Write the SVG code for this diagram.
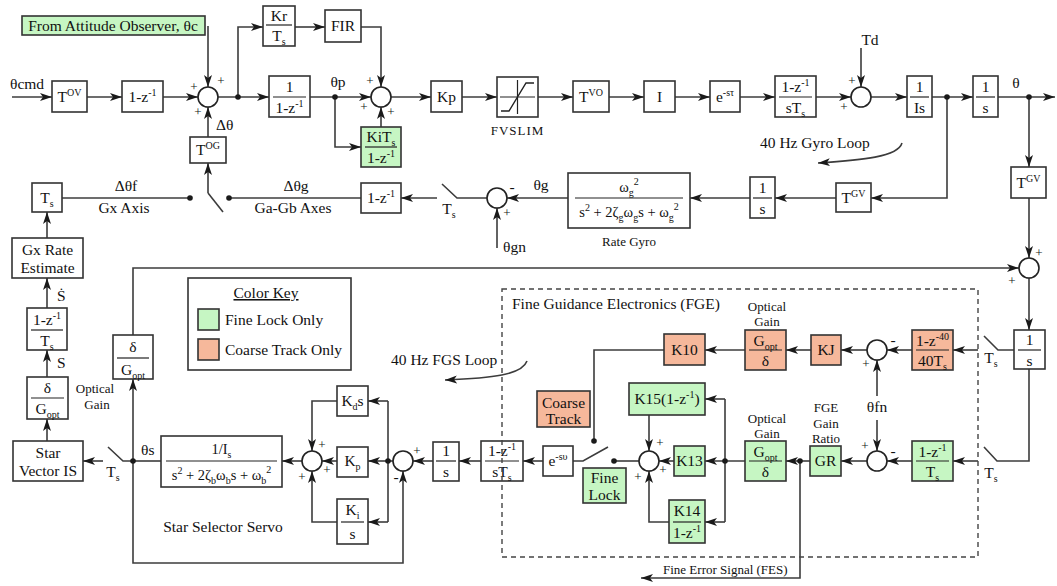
<svg xmlns="http://www.w3.org/2000/svg" width="1057" height="586" viewBox="0 0 1057 586">
<defs>
<marker id="ah" viewBox="0 0 12 8" refX="12" refY="4" markerWidth="12" markerHeight="8" markerUnits="userSpaceOnUse" orient="auto"><path d="M0,0 L12,4 L0,8 L3,4 Z" fill="#1a1a1a"/></marker>
</defs>
<style>
text{font-family:"Liberation Serif","Times New Roman",serif;font-size:15.5px;fill:#111}
.c{text-anchor:middle}
.sm{font-size:13px}
.pm{font-size:14.5px}
.bx{fill:#fff;stroke:#333;stroke-width:1.6}
.g{fill:#c6f6c3}
.o{fill:#f6b89b}
.ln{fill:none;stroke:#3c3c3c;stroke-width:1.6}
.ar{marker-end:url(#ah)}
.fl{stroke:#222;stroke-width:1.2}
.dot{fill:#1a1a1a}
.sum{fill:#fff;stroke:#222;stroke-width:1.6}
</style>
<rect width="1057" height="586" fill="#fff"/>

<g id="connectors">
<path class="ln ar" d="M12,97 H52"/>
<path class="ln ar" d="M87,97 H122"/>
<path class="ln ar" d="M163,97 H198"/>
<path class="ln ar" d="M208,26 V87"/>
<path class="ln ar" d="M218,97 H269"/>
<path class="ln ar" d="M238,97 V27 H263"/>
<path class="ln ar" d="M295,27 H325"/>
<path class="ln ar" d="M361,27 H381 V87"/>
<path class="ln ar" d="M310,97 H371"/>
<path class="ln ar" d="M335,97 V147 H361"/>
<path class="ln ar" d="M381,127 V107"/>
<path class="ln ar" d="M391,97 H431"/>
<path class="ln ar" d="M462,97 H497"/>
<path class="ln ar" d="M538,97 H573"/>
<path class="ln ar" d="M609,97 H644"/>
<path class="ln ar" d="M675,97 H710"/>
<path class="ln ar" d="M740,97 H775"/>
<path class="ln ar" d="M816,97 H851"/>
<path class="ln ar" d="M861,48 V87"/>
<path class="ln ar" d="M871,97 H907"/>
<path class="ln ar" d="M932,97 H973"/>
<path class="ln ar" d="M998,97 H1055"/>
<path class="ln ar" d="M1029,97 V167"/>
<path class="ln ar" d="M1029,198 V258"/>
<path class="ln ar" d="M947,97 V198 H871"/>
<path class="ln ar" d="M836,198 H775"/>
<path class="ln ar" d="M750,198 H690"/>
<path class="ln ar" d="M568,198 H507"/>
<path class="ln ar" d="M497,248 V208"/>
<path class="ln" d="M487,198 H457 L442,184"/>
<path class="ln ar" d="M437,198 H401"/>
<path class="ln" d="M361,198 H229"/>
<path class="ln" d="M190,198 H62"/>
<path class="ln ar" d="M208,193 V163"/>
<path class="ln" d="M208,193 L223,212"/>
<path class="ln ar" d="M208,137 V107"/>
<path class="ln ar" d="M47,238 V212"/>
<path class="ln ar" d="M47,308 V278"/>
<path class="ln ar" d="M47,377 V350"/>
<path class="ln ar" d="M47,441 V419"/>
<path class="ln ar" d="M103,461 H83"/>
<path class="ln" d="M133,461 H123 L108,447"/>
<path class="ln" d="M161,461 H133"/>
<path class="ln ar" d="M133,461 V379"/>
<path class="ln ar" d="M133,335 V268 H1019"/>
<path class="ln ar" d="M133,461 V563 H403 V471"/>
<path class="ln ar" d="M302,461 H282"/>
<path class="ln ar" d="M337,401 H312 V451"/>
<path class="ln ar" d="M337,461 H322"/>
<path class="ln ar" d="M337,522 H312 V471"/>
<path class="ln ar" d="M393,461 H368"/>
<path class="ln" d="M388,401 V522"/>
<path class="ln ar" d="M388,401 H368"/>
<path class="ln ar" d="M388,522 H368"/>
<path class="ln ar" d="M433,461 H413"/>
<path class="ln ar" d="M481,461 H459"/>
<path class="ln ar" d="M543,461 H523"/>
<path class="ln" d="M573,461 H583 L608,447"/>
<path class="ln" d="M664,350 H594 V441"/>
<path class="ln" d="M614,461 H639"/>
<path class="ln ar" d="M649,415 V451"/>
<path class="ln ar" d="M674,461 H659"/>
<path class="ln ar" d="M669,522 H649 V471"/>
<path class="ln ar" d="M745,461 H705"/>
<path class="ln" d="M725,399 V522"/>
<path class="ln ar" d="M725,399 H705"/>
<path class="ln ar" d="M725,522 H705"/>
<path class="ln ar" d="M810,461 H786"/>
<path class="ln ar" d="M800,461 V578 H641"/>
<path class="ln ar" d="M867,461 H841"/>
<path class="ln ar" d="M877,420 V451"/>
<path class="ln ar" d="M877,396 V360"/>
<path class="ln ar" d="M912,461 H887"/>
<path class="ln ar" d="M978,461 H953"/>
<path class="ln" d="M984,447 L997,461 H1029 V369"/>
<path class="ln ar" d="M1029,278 V330"/>
<path class="ln" d="M1014,350 H998 L984,336"/>
<path class="ln ar" d="M978,350 H953"/>
<path class="ln ar" d="M912,350 H887"/>
<path class="ln ar" d="M867,350 H841"/>
<path class="ln ar" d="M811,350 H786"/>
<path class="ln ar" d="M745,350 H705"/>
<path class="ln ar" d="M902,143 C898,157 862,160 818,163"/>
<path class="ln ar" d="M527,361 C522,375 492,378 445,380"/>
<circle class="dot" cx="238" cy="97" r="2.8"/>
<circle class="dot" cx="335" cy="97" r="2.8"/>
<circle class="dot" cx="947" cy="97" r="2.8"/>
<circle class="dot" cx="1029" cy="97" r="2.8"/>
<circle class="dot" cx="229" cy="198" r="2.8"/>
<circle class="dot" cx="190" cy="198" r="2.8"/>
<circle class="dot" cx="133" cy="461" r="2.8"/>
<circle class="dot" cx="388" cy="461" r="2.8"/>
<circle class="dot" cx="594" cy="441" r="2.8"/>
<circle class="dot" cx="614" cy="461" r="2.8"/>
<circle class="dot" cx="725" cy="461" r="2.8"/>
<circle class="dot" cx="800" cy="461" r="2.8"/>
</g>

<g id="labels">
<text x="10" y="89">θcmd</text>
<text x="216" y="130">Δθ</text>
<text x="338" y="87" class="c">θp</text>
<text x="870" y="45" class="c">Td</text>
<text x="1016" y="88" class="c">θ</text>
<text x="760" y="148">40 Hz Gyro Loop</text>
<text x="541" y="190" class="c">θg</text>
<text x="503" y="252">θgn</text>
<text x="449" y="214" class="c">T<tspan dy="4" font-size="10">s</tspan></text>
<text x="296" y="191" class="c">Δθg</text>
<text x="293" y="213" class="c">Ga-Gb Axes</text>
<text x="126" y="191" class="c">Δθf</text>
<text x="124" y="213" class="c">Gx Axis</text>
<text x="57" y="301">Ṡ</text>
<text x="57" y="368">S</text>
<text x="95" y="393" class="c sm">Optical</text>
<text x="97" y="409" class="c sm">Gain</text>
<text x="113" y="477" class="c">T<tspan dy="4" font-size="10">s</tspan></text>
<text x="141" y="455">θs</text>
<text x="223" y="532" class="c">Star Selector Servo</text>
<text x="391" y="365">40 Hz FGS Loop</text>
<text x="767" y="311" class="c sm">Optical</text>
<text x="767" y="326" class="c sm">Gain</text>
<text x="767" y="423" class="c sm">Optical</text>
<text x="767" y="438" class="c sm">Gain</text>
<text x="826" y="412" class="c sm">FGE</text>
<text x="826" y="428" class="c sm">Gain</text>
<text x="826" y="443" class="c sm">Ratio</text>
<text x="877" y="412" class="c">θfn</text>
<text x="991" y="363" class="c">T<tspan dy="4" font-size="10">s</tspan></text>
<text x="991" y="478" class="c">T<tspan dy="4" font-size="10">s</tspan></text>
<text x="663" y="574" class="sm">Fine Error Signal (FES)</text>
</g>

<g id="from-observer"><rect class="bx g" x="22" y="16" width="183" height="19"/><text x="113" y="31" class="c">From Attitude Observer, θc</text></g>
<g id="tov"><rect class="bx" x="52" y="81" width="35" height="31"/><text x="69.5" y="102" class="c">T<tspan dy="-6" font-size="10">OV</tspan></text></g>
<g id="diff1"><rect class="bx" x="122" y="81" width="41" height="31"/><text x="142.5" y="102" class="c">1-z<tspan dy="-6" font-size="10">-1</tspan></text></g>
<g id="sum1"><circle class="sum" cx="208" cy="97" r="10"/><text x="194" y="91" class="c sm">+</text><text x="221" y="85" class="c sm">+</text><text x="198" y="116" class="c sm">+</text></g>
<g id="tog"><rect class="bx" x="190" y="137" width="36" height="26"/><text x="208" y="155" class="c">T<tspan dy="-6" font-size="10">OG</tspan></text></g>
<g id="kr-ts"><rect class="bx" x="263" y="6" width="32" height="40"/><text x="279" y="21" class="c">Kr</text><line class="fl" x1="266" y1="25" x2="292" y2="25"/><text x="279" y="41" class="c">T<tspan dy="4" font-size="10">s</tspan></text></g>
<g id="fir"><rect class="bx" x="325" y="10" width="36" height="32"/><text x="343" y="31" class="c">FIR</text></g>
<g id="accum"><rect class="bx" x="269" y="76" width="41" height="41"/><text x="289.5" y="92" class="c">1</text><line class="fl" x1="273" y1="97" x2="306" y2="97"/><text x="289.5" y="113" class="c">1-z<tspan dy="-6" font-size="10">-1</tspan></text></g>
<g id="sum2"><circle class="sum" cx="381" cy="97" r="10"/><text x="370" y="85" class="c sm">+</text><text x="364" y="111" class="c sm">+</text><text x="391" y="116" class="c sm">+</text></g>
<g id="ki"><rect class="bx g" x="361" y="127" width="40" height="40"/><text x="381" y="142" class="c">KiT<tspan dy="4" font-size="10">s</tspan></text><line class="fl" x1="365" y1="147" x2="397" y2="147"/><text x="381" y="163" class="c">1-z<tspan dy="-6" font-size="10">-1</tspan></text></g>
<g id="kp"><rect class="bx" x="431" y="81" width="31" height="31"/><text x="446.5" y="102" class="c">Kp</text></g>
<g id="fvslim"><rect class="bx" x="497" y="77" width="41" height="40"/><line class="fl" x1="517.5" y1="80" x2="517.5" y2="114"/><line class="fl" x1="500" y1="97" x2="535" y2="97"/><path d="M501,111 H509 L526,83 H534" fill="none" stroke="#222" stroke-width="1.4"/><text x="517.5" y="135" class="c sm" letter-spacing="1">FVSLIM</text></g>
<g id="tvo"><rect class="bx" x="573" y="81" width="36" height="31"/><text x="591" y="102" class="c">T<tspan dy="-6" font-size="10">VO</tspan></text></g>
<g id="inertia"><rect class="bx" x="644" y="81" width="31" height="31"/><text x="659.5" y="102" class="c">I</text></g>
<g id="delay1"><rect class="bx" x="710" y="81" width="30" height="31"/><text x="725" y="102" class="c">e<tspan dy="-6" font-size="10">-sτ</tspan></text></g>
<g id="zoh1"><rect class="bx" x="775" y="76" width="41" height="41"/><text x="795.5" y="92" class="c">1-z<tspan dy="-6" font-size="10">-1</tspan></text><line class="fl" x1="779" y1="97" x2="812" y2="97"/><text x="795.5" y="113" class="c">sT<tspan dy="4" font-size="10">s</tspan></text></g>
<g id="sum3"><circle class="sum" cx="861" cy="97" r="10"/><text x="852" y="85" class="c sm">+</text><text x="844" y="111" class="c sm">+</text></g>
<g id="plant1"><rect class="bx" x="907" y="76" width="25" height="41"/><text x="919.5" y="92" class="c">1</text><line class="fl" x1="910" y1="97" x2="929" y2="97"/><text x="919.5" y="113" class="c">Is</text></g>
<g id="plant2"><rect class="bx" x="973" y="76" width="25" height="41"/><text x="985.5" y="92" class="c">1</text><line class="fl" x1="976" y1="97" x2="995" y2="97"/><text x="985.5" y="113" class="c">s</text></g>
<g id="tgv1"><rect class="bx" x="1011" y="167" width="35" height="31"/><text x="1028.5" y="188" class="c">T<tspan dy="-6" font-size="10">GV</tspan></text></g>
<g id="tgv2"><rect class="bx" x="836" y="183" width="35" height="29"/><text x="853.5" y="203" class="c">T<tspan dy="-6" font-size="10">GV</tspan></text></g>
<g id="gyro-int"><rect class="bx" x="750" y="177" width="25" height="41"/><text x="762.5" y="193" class="c">1</text><line class="fl" x1="753" y1="198" x2="772" y2="198"/><text x="762.5" y="214" class="c">s</text></g>
<g id="rate-gyro"><rect class="bx" x="568" y="173" width="122" height="55"/><text x="629" y="192" class="c pm">ω<tspan dy="4" font-size="10">g</tspan><tspan dy="-11" font-size="10">2</tspan></text><line class="fl" x1="575" y1="198" x2="683" y2="198"/><text x="629" y="217" class="c pm">s<tspan dy="-6" font-size="10">2</tspan><tspan dy="6"> + 2ζ</tspan><tspan dy="4" font-size="10">g</tspan><tspan dy="-4">ω</tspan><tspan dy="4" font-size="10">g</tspan><tspan dy="-4">s + ω</tspan><tspan dy="4" font-size="10">g</tspan><tspan dy="-11" font-size="10">2</tspan></text><text x="629" y="246" class="c sm">Rate Gyro</text></g>
<g id="sum4"><circle class="sum" cx="497" cy="198" r="10"/><text x="512" y="192" class="c">-</text><text x="507" y="217" class="c sm">+</text></g>
<g id="diff2"><rect class="bx" x="361" y="183" width="40" height="30"/><text x="381" y="203" class="c">1-z<tspan dy="-6" font-size="10">-1</tspan></text></g>
<g id="ts-box"><rect class="bx" x="32" y="183" width="30" height="29"/><text x="47" y="203" class="c">T<tspan dy="4" font-size="10">s</tspan></text></g>
<g id="gx-rate"><rect class="bx" x="12" y="238" width="71" height="40"/><text x="47.5" y="255" class="c">Gx Rate</text><text x="47.5" y="273" class="c">Estimate</text></g>
<g id="rate-diff"><rect class="bx" x="27" y="308" width="40" height="42"/><text x="47" y="325" class="c">1-z<tspan dy="-6" font-size="10">-1</tspan></text><line class="fl" x1="31" y1="330" x2="63" y2="330"/><text x="47" y="346" class="c">T<tspan dy="4" font-size="10">s</tspan></text></g>
<g id="opt-inv1"><rect class="bx" x="27" y="377" width="41" height="42"/><text x="47.5" y="393" class="c">δ</text><line class="fl" x1="31" y1="398" x2="64" y2="398"/><text x="47.5" y="414" class="c">G<tspan dy="4" font-size="10">opt</tspan></text></g>
<g id="star-vector"><rect class="bx" x="13" y="441" width="70" height="40"/><text x="48" y="458" class="c">Star</text><text x="48" y="476" class="c">Vector IS</text></g>
<g id="opt-inv2"><rect class="bx" x="113" y="335" width="40" height="44"/><text x="133" y="352" class="c">δ</text><line class="fl" x1="117" y1="358" x2="149" y2="358"/><text x="133" y="375" class="c">G<tspan dy="4" font-size="10">opt</tspan></text></g>
<g id="servo"><rect class="bx" x="161" y="436" width="121" height="51"/><text x="221.5" y="454" class="c pm">1/I<tspan dy="4" font-size="10">s</tspan></text><line class="fl" x1="166" y1="461" x2="277" y2="461"/><text x="221.5" y="480" class="c pm">s<tspan dy="-6" font-size="10">2</tspan><tspan dy="6"> + 2ζ</tspan><tspan dy="4" font-size="10">b</tspan><tspan dy="-4">ω</tspan><tspan dy="4" font-size="10">b</tspan><tspan dy="-4">s + ω</tspan><tspan dy="4" font-size="10">b</tspan><tspan dy="-11" font-size="10">2</tspan></text></g>
<g id="sum5"><circle class="sum" cx="312" cy="461" r="10"/><text x="322" y="449" class="c sm">+</text><text x="327" y="474" class="c sm">+</text><text x="302" y="481" class="c sm">+</text></g>
<g id="kds"><rect class="bx" x="337" y="386" width="31" height="30"/><text x="352.5" y="406" class="c">K<tspan dy="4" font-size="10">d</tspan><tspan dy="-4">s</tspan></text></g>
<g id="kp2"><rect class="bx" x="337" y="447" width="31" height="30"/><text x="352.5" y="466" class="c">K<tspan dy="4" font-size="10">p</tspan></text></g>
<g id="kis"><rect class="bx" x="337" y="499" width="31" height="45"/><text x="352.5" y="515" class="c">K<tspan dy="4" font-size="10">i</tspan></text><line class="fl" x1="341" y1="522" x2="364" y2="522"/><text x="352.5" y="539" class="c">s</text></g>
<g id="sum6"><circle class="sum" cx="403" cy="461" r="10"/><text x="417" y="455" class="c sm">+</text><text x="396" y="482" class="c">-</text></g>
<g id="int2"><rect class="bx" x="433" y="442" width="26" height="39"/><text x="446" y="456" class="c">1</text><line class="fl" x1="436" y1="461" x2="456" y2="461"/><text x="446" y="477" class="c">s</text></g>
<g id="zoh2"><rect class="bx" x="481" y="441" width="42" height="40"/><text x="502" y="456" class="c">1-z<tspan dy="-6" font-size="10">-1</tspan></text><line class="fl" x1="485" y1="461" x2="519" y2="461"/><text x="502" y="477" class="c">sT<tspan dy="4" font-size="10">s</tspan></text></g>
<g id="delay2"><rect class="bx" x="543" y="446" width="30" height="30"/><text x="558" y="466" class="c">e<tspan dy="-6" font-size="10">-sυ</tspan></text></g>
<g id="coarse-track"><rect class="bx o" x="537" y="391" width="53" height="36"/><text x="563.5" y="408" class="c">Coarse</text><text x="563.5" y="424" class="c">Track</text></g>
<g id="fine-lock"><rect class="bx g" x="583" y="468" width="43" height="35"/><text x="604.5" y="483" class="c">Fine</text><text x="604.5" y="500" class="c">Lock</text></g>
<g id="sum7"><circle class="sum" cx="649" cy="461" r="10"/><text x="660" y="447" class="c sm">+</text><text x="663" y="474" class="c sm">+</text><text x="638" y="481" class="c sm">+</text></g>
<g id="k15"><rect class="bx g" x="629" y="383" width="76" height="32"/><text x="667" y="404" class="c">K15(1-z<tspan dy="-6" font-size="10">-1</tspan><tspan dy="6">)</tspan></text></g>
<g id="k13"><rect class="bx g" x="674" y="446" width="31" height="30"/><text x="689.5" y="466" class="c">K13</text></g>
<g id="k14"><rect class="bx g" x="669" y="500" width="36" height="43"/><text x="687" y="516" class="c">K14</text><line class="fl" x1="673" y1="522" x2="701" y2="522"/><text x="687" y="538" class="c">1-z<tspan dy="-6" font-size="10">-1</tspan></text></g>
<g id="gopt-fine"><rect class="bx g" x="745" y="441" width="41" height="40"/><text x="765.5" y="457" class="c">G<tspan dy="4" font-size="10">opt</tspan></text><line class="fl" x1="749" y1="461" x2="782" y2="461"/><text x="765.5" y="477" class="c">δ</text></g>
<g id="gr"><rect class="bx g" x="810" y="446" width="31" height="30"/><text x="825.5" y="466" class="c">GR</text></g>
<g id="sum8"><circle class="sum" cx="877" cy="461" r="10"/><text x="865" y="450" class="c sm">+</text><text x="893" y="456" class="c">-</text></g>
<g id="diff-fine"><rect class="bx g" x="912" y="441" width="41" height="40"/><text x="932.5" y="457" class="c">1-z<tspan dy="-6" font-size="10">-1</tspan></text><line class="fl" x1="916" y1="461" x2="949" y2="461"/><text x="932.5" y="477" class="c">T<tspan dy="4" font-size="10">s</tspan></text></g>
<g id="int3"><rect class="bx" x="1014" y="330" width="31" height="39"/><text x="1029.5" y="345" class="c">1</text><line class="fl" x1="1018" y1="350" x2="1041" y2="350"/><text x="1029.5" y="366" class="c">s</text></g>
<g id="sum9"><circle class="sum" cx="1029" cy="268" r="10"/><text x="1039" y="257" class="c sm">+</text><text x="1012" y="285" class="c sm">+</text></g>
<g id="diff-coarse"><rect class="bx o" x="912" y="330" width="41" height="40"/><text x="932.5" y="346" class="c">1-z<tspan dy="-6" font-size="10">-40</tspan></text><line class="fl" x1="916" y1="350" x2="949" y2="350"/><text x="932.5" y="366" class="c">40T<tspan dy="4" font-size="10">s</tspan></text></g>
<g id="sum10"><circle class="sum" cx="877" cy="350" r="10"/><text x="893" y="345" class="c">-</text><text x="866" y="368" class="c sm">+</text></g>
<g id="kj"><rect class="bx o" x="811" y="335" width="30" height="30"/><text x="826" y="355" class="c">KJ</text></g>
<g id="gopt-coarse"><rect class="bx o" x="745" y="330" width="41" height="40"/><text x="765.5" y="346" class="c">G<tspan dy="4" font-size="10">opt</tspan></text><line class="fl" x1="749" y1="350" x2="782" y2="350"/><text x="765.5" y="366" class="c">δ</text></g>
<g id="k10"><rect class="bx o" x="664" y="334" width="41" height="31"/><text x="684.5" y="355" class="c">K10</text></g>
<g id="fge"><rect x="502" y="289" width="476" height="268" fill="none" stroke="#444" stroke-width="1.4" stroke-dasharray="5,4"/><text x="512" y="309" font-size="16.5">Fine Guidance Electronics (FGE)</text></g>
<g id="color-key"><rect class="bx" x="188" y="278" width="163" height="92"/><text x="266" y="298" class="c" text-decoration="underline">Color Key</text><rect class="bx g" x="198" y="309" width="21" height="21"/><text x="225" y="325">Fine Lock Only</text><rect class="bx o" x="198" y="339" width="21" height="21"/><text x="225" y="355">Coarse Track Only</text></g>
</svg>
